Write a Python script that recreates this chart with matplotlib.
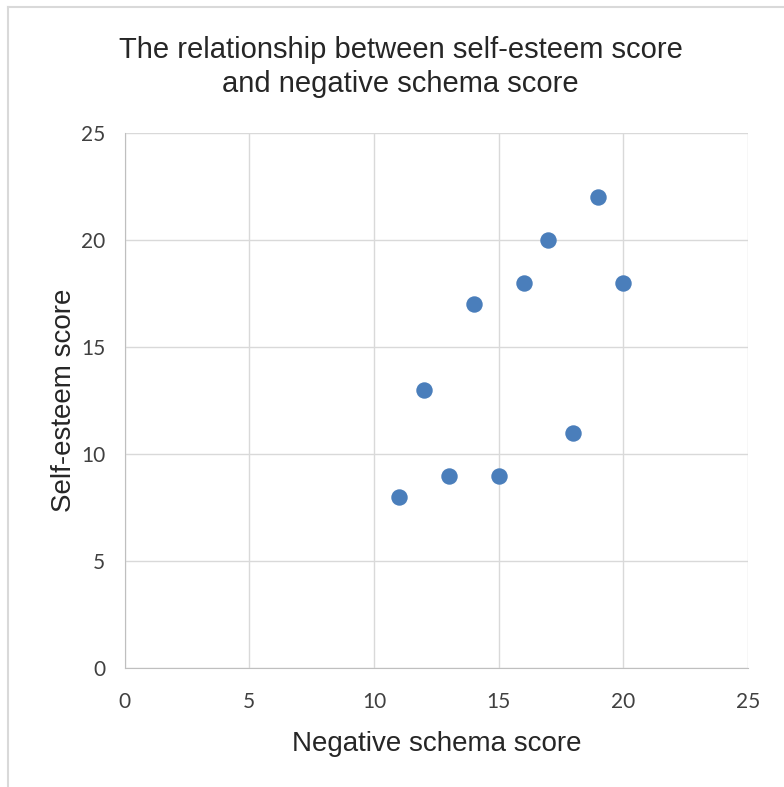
import matplotlib.pyplot as plt
from matplotlib.lines import Line2D

# negative schema score vs self-esteem score
negative_schema = [19, 17, 16, 20, 14, 12, 18, 13, 15, 11]
self_esteem = [22, 20, 18, 18, 17, 13, 11, 9, 9, 8]
ticks = [0, 5, 10, 15, 20, 25]

plt.rcParams['font.family'] = ['Liberation Sans', 'DejaVu Sans']

fig = plt.figure(figsize=(7.84, 7.87), dpi=100)
ax = fig.add_axes([0.159, 0.151, 0.795, 0.680])

ax.scatter(negative_schema, self_esteem, s=140, color='#4a7ebb', zorder=3, linewidths=0)

ax.set_xlim(0, 25)
ax.set_ylim(0, 25)
ax.set_xticks(ticks)
ax.set_yticks(ticks)
ax.grid(True, color='#d9d9d9', linewidth=1)
ax.set_axisbelow(True)
ax.tick_params(length=0, labelsize=15, colors='#404040')
ax.tick_params(axis='x', pad=17)
ax.tick_params(axis='y', pad=14)
for lab in ax.get_xticklabels() + ax.get_yticklabels():
    lab.set_family(['Lato', 'DejaVu Sans'])
for s in ['top', 'right']:
    ax.spines[s].set_visible(False)
for s in ['left', 'bottom']:
    ax.spines[s].set_color('#bfbfbf')

ax.set_xlabel('Negative schema score', fontsize=20, labelpad=14, color='#262626')
ax.set_ylabel('Self-esteem score', fontsize=20, labelpad=3, color='#262626')
fig.text(0.511, 0.915, 'The relationship between self-esteem score\nand negative schema score',
         ha='center', va='center', fontsize=21, linespacing=1.3, color='#262626')

# chart frame (top and left edges)
fig.add_artist(Line2D([0.01, 1.0], [0.991, 0.991], color='#d9d9d9', linewidth=1.5))
fig.add_artist(Line2D([0.01, 0.01], [0.0, 0.991], color='#d9d9d9', linewidth=1.5))

fig.savefig('out.png', dpi=100)
